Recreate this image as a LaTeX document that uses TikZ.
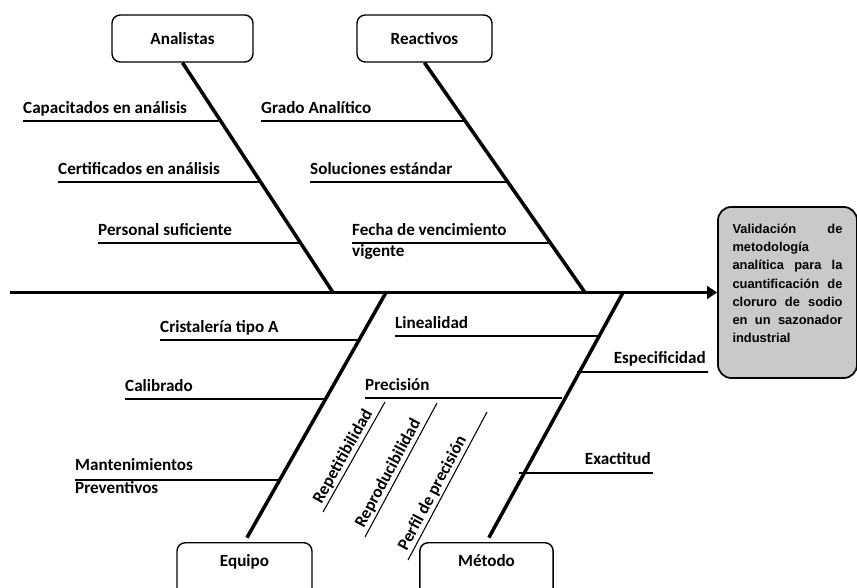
\documentclass[tikz,border=0pt]{standalone}
\usepackage{fontspec}
\setmainfont{Carlito}
\newfontfamily\effont{Liberation Sans}
\usetikzlibrary{arrows.meta}

\tikzset{
  cat/.style={draw, line width=1.2pt, rounded corners=0.25cm, minimum width=4.05cm,
    minimum height=1.41cm, font=\bfseries\fontsize{14.6}{16}\selectfont},
  catlow/.style={cat, anchor=north, minimum height=1.7cm, text height=0.3cm, text depth=0.55cm},
  effect/.style={draw, line width=1.5pt, fill=gray!42, rounded corners=0.4cm,
    minimum width=4.17cm, minimum height=5.13cm, text width=3.3cm, align=left,
    font=\effont\bfseries\fontsize{11}{15.6}\selectfont},
  rib/.style={line width=3pt},
  sub/.style={line width=1.6pt},
  fine/.style={line width=0.9pt},
  lbl/.style={font=\bfseries\fontsize{14.6}{16}\selectfont, inner sep=0pt, anchor=base west},
  lblr/.style={lbl, anchor=base east},
  tilt/.style={font=\bfseries\fontsize{14.6}{16}\selectfont, inner sep=1.5pt, sloped, above},
}

\begin{document}
\begin{tikzpicture}[x=0.03cm,y=-0.03cm]
\useasboundingbox (0,0) rectangle (857,588);
\clip (0,0) rectangle (857,588);

% causes
\node[cat, minimum width=4.23cm] (ana) at (182.5,38.5) {Analistas};
\node[cat] (rea) at (424.5,38.5) {Reactivos};
\node[catlow] (equ) at (244.5,542) {Equipo};
\node[catlow, minimum width=4cm] (met) at (486.5,542) {Método};

% effect
\node[effect] (eff) at (787.5,292.5) {Validación\hfill de\\ metodología\\
  analítica\hfill para\hfill la\\ cuantificación\hfill de\\ cloruro\hfill de\hfill sodio\\
  en\hfill un\hfill sazonador\\ industrial\\ \mbox{}};

% spine
\coordinate (tail) at (10,292.5);
\draw[line width=3.4pt, -{Triangle[length=0.3cm,width=0.38cm]}] (tail) -- (eff.west);

% ribs
\coordinate (jA) at (333,292.5);
\coordinate (jR) at (585,292.5);
\coordinate (jE) at (386,292.5);
\coordinate (jM) at (623,292.5);
\draw[rib] (ana.south) -- (jA);
\draw[rib] (rea.south) -- (jR);
\draw[rib, shorten <=0.15cm] (equ.north) -- (jE);
\draw[rib, shorten <=0.15cm] (met.north) -- (jM);

% Analistas
\node[lbl] (a1) at (23,113) {Capacitados en análisis};
\draw[sub] (23,121) -- (221,121);
\node[lbl] (a2) at (58,174) {Certificados en análisis};
\draw[sub] (58,182) -- (261,182);
\node[lbl] (a3) at (98,235) {Personal suficiente};
\draw[sub] (98,243) -- (300,243);

% Reactivos
\node[lbl] (r1) at (261,113) {Grado Analítico};
\draw[sub] (261,121) -- (465,121);
\node[lbl] (r2) at (310,174) {Soluciones estándar};
\draw[sub] (310,182) -- (508,182);
\node[lbl] (r3) at (352,235) {Fecha de vencimiento};
\node[lbl] (r3b) at (352,256) {vigente};
\draw[sub] (352,243) -- (550,243);

% Equipo
\node[lbl] (e1) at (160,332) {Cristalería tipo A};
\draw[sub] (160,340) -- (359,340);
\node[lbl] (e2) at (125,391) {Calibrado};
\draw[sub] (125,399) -- (325,399);
\node[lbl] (e3) at (75,470) {Mantenimientos};
\node[lbl] (e3b) at (75,493) {Preventivos};
\draw[sub] (75,480) -- (278,480);

% Metodo
\node[lbl] (m1) at (395,328) {Linealidad};
\draw[sub] (395,336) -- (598,336);
\node[lblr] (m2) at (706,363) {Especificidad};
\draw[sub] (577,372) -- (708,372);
\node[lbl] (m3) at (365,390) {Precisión};
\draw[sub] (365,398) -- (562,398);
\node[lblr] (m4) at (651,464) {Exactitud};
\draw[sub] (519,473) -- (653,473);

% precision
\draw[fine] (323,512) -- node[tilt, pos=0.46] (p1) {Repetitibilidad} (385,402);
\draw[fine] (365,537) -- node[tilt, pos=0.44] (p2) {Reproducibilidad} (437,403);
\draw[fine] (408,560) -- node[tilt, pos=0.42] (p3) {Perfil de precisión} (487,412);
\end{tikzpicture}
\end{document}
